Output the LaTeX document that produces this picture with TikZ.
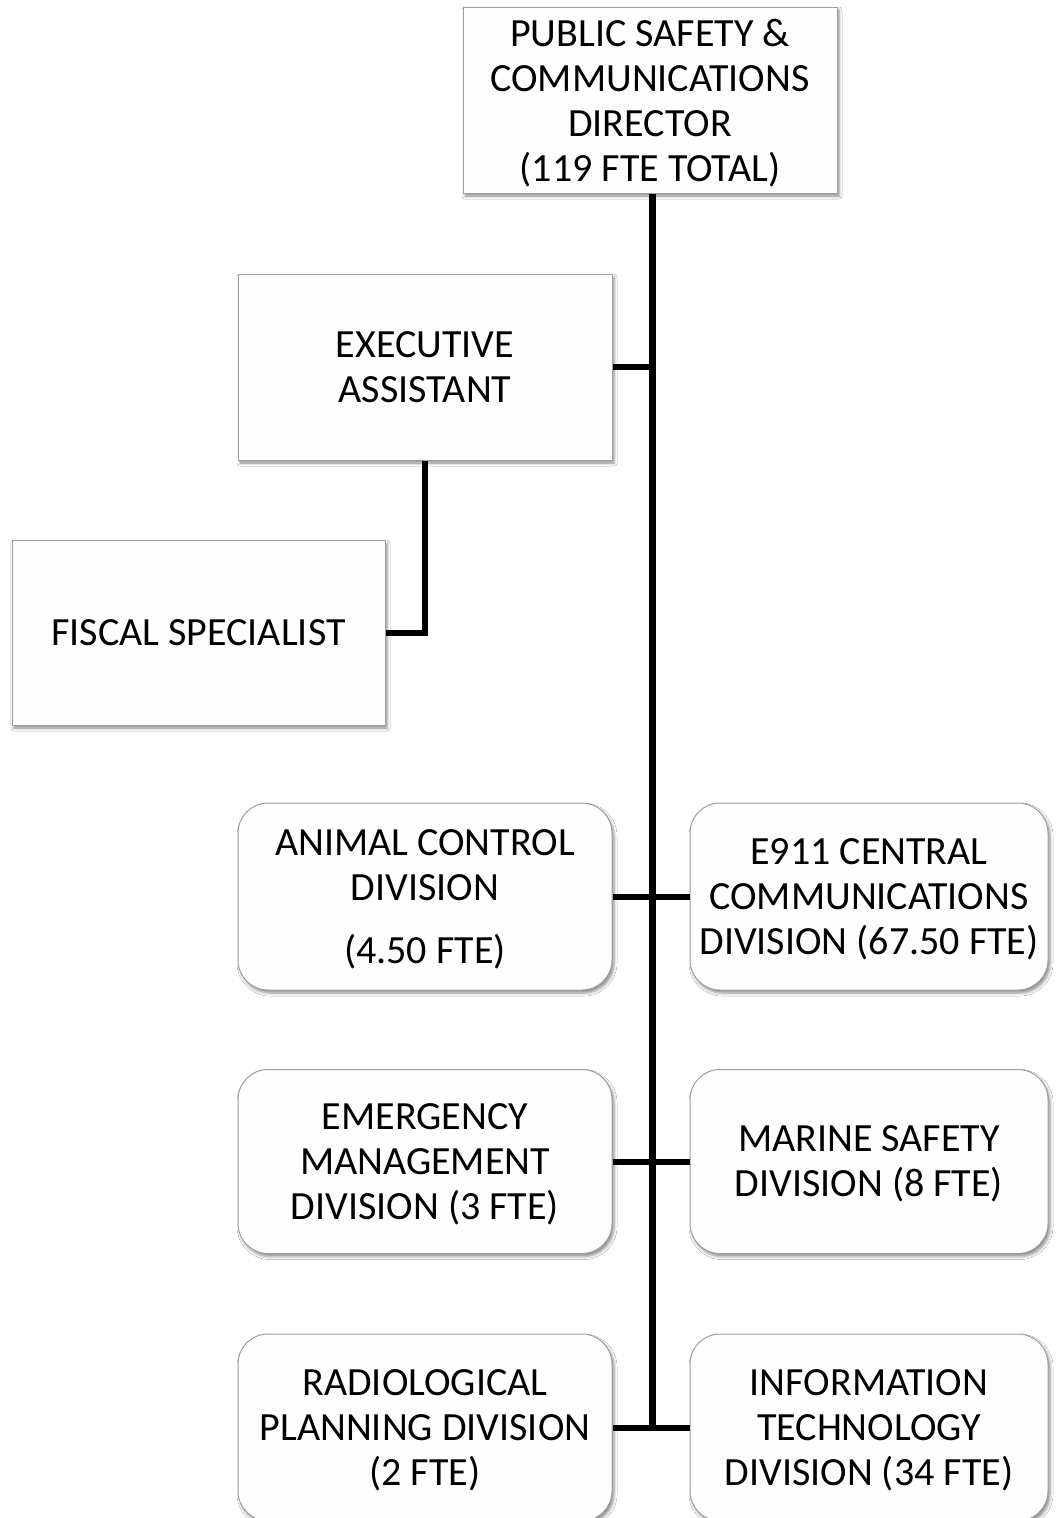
\documentclass[tikz,border=0pt]{standalone}
\usepackage{fontspec}
\setmainfont{Carlito}
\usetikzlibrary{shadows.blur}
\definecolor{boxline}{gray}{0.62}
\definecolor{boxfill}{gray}{0.995}
\tikzset{
  unit/.style={draw=boxline, line width=1pt, fill=boxfill, align=center,
    font=\fontsize{40}{45}\selectfont, inner sep=0pt, text depth=0pt,
    blur shadow={shadow xshift=2pt, shadow yshift=-3pt, shadow blur radius=3pt, shadow opacity=45}},
  sqbox/.style={unit, minimum width=374pt, minimum height=186pt},
  divbox/.style={unit, rounded corners=30pt, minimum height=187pt},
  link/.style={line width=6pt, line cap=butt},
  trunkline/.style={line width=7pt}
}
\begin{document}
\begin{tikzpicture}[x=1pt, y=-1pt]
  \useasboundingbox (0,0) rectangle (1055,1518);
  \clip (0,0) rectangle (1055,1518);
  \fill[white] (0,0) rectangle (1055,1518);

  % director and staff
  \node[sqbox] (dir) at (650,100) {PUBLIC SAFETY \&\\COMMUNICATIONS\\DIRECTOR\\(119 FTE TOTAL)};
  \node[sqbox] (exec) at (425,367) {EXECUTIVE\\ASSISTANT};
  \node[sqbox, minimum width=373pt, minimum height=185pt] (fiscal) at (198.5,632.5) {FISCAL SPECIALIST};

  % divisions
  \node[divbox, minimum width=374pt] (animal) at (425,896.5) {ANIMAL CONTROL\\DIVISION\\[18pt](4.50 FTE)};
  \node[divbox, minimum width=358pt] (e911) at (869,896.5) {E911 CENTRAL\\COMMUNICATIONS\\DIVISION (67.50 FTE)};
  \node[divbox, minimum width=374pt, minimum height=184pt] (emerg) at (425,1161.5) {EMERGENCY\\MANAGEMENT\\DIVISION (3 FTE)};
  \node[divbox, minimum width=358pt, minimum height=184pt] (marine) at (869,1161.5) {MARINE SAFETY\\DIVISION (8 FTE)};
  \node[divbox, minimum width=374pt] (radio) at (425,1427.5) {RADIOLOGICAL\\PLANNING DIVISION\\(2 FTE)};
  \node[divbox, minimum width=358pt] (info) at (869,1427.5) {INFORMATION\\TECHNOLOGY\\DIVISION (34 FTE)};

  % connectors
  \coordinate (trunkend) at (652,1428);
  \draw[trunkline] (dir.south -| trunkend) -- (trunkend);
  \draw[link] (exec.east) -- (exec.east -| trunkend);
  \draw[link] (exec.south) |- (fiscal.east);
  \draw[link] (animal.east) -- (e911.west);
  \draw[link] (emerg.east) -- (marine.west);
  \draw[link] (radio.east) -- (info.west);
\end{tikzpicture}
\end{document}
